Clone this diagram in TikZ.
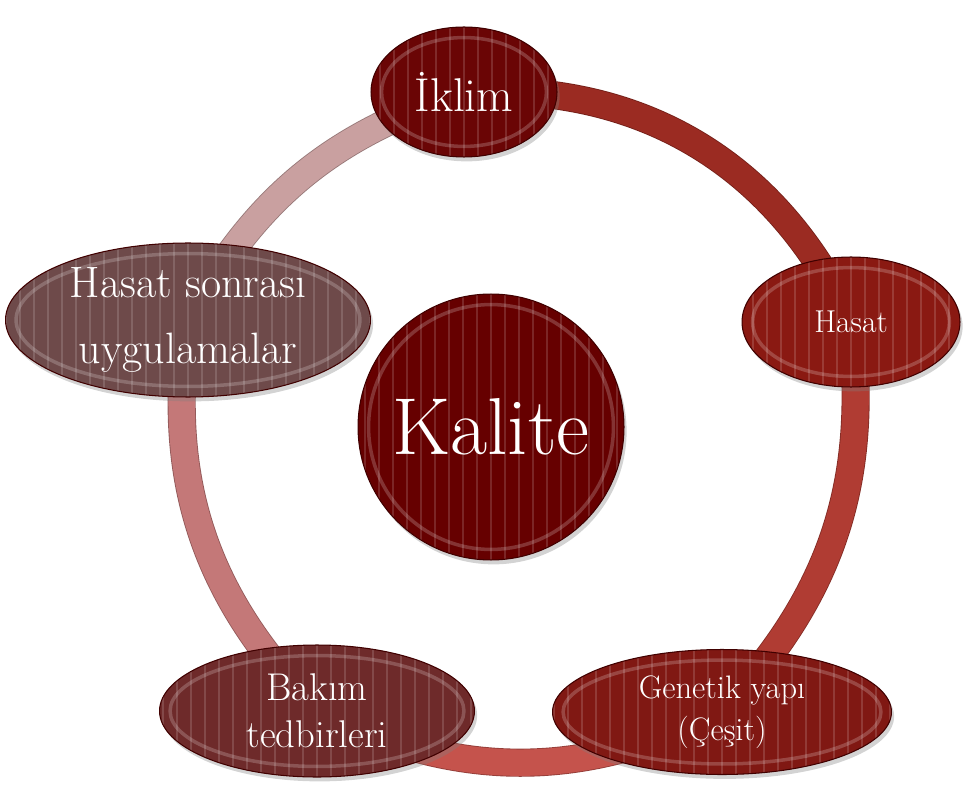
\documentclass[tikz,border=0pt]{standalone}
\usepackage{fontspec}
\usetikzlibrary{shapes.geometric,shadows,backgrounds,calc}
\definecolor{c0}{HTML}{660000}
\definecolor{c1}{HTML}{6A0505}
\definecolor{c2}{HTML}{8A1912}
\definecolor{c3}{HTML}{801813}
\definecolor{c4}{HTML}{6E2A2A}
\definecolor{c5}{HTML}{6E4A4A}
\definecolor{ringA}{HTML}{9B2B22}
\definecolor{ringB}{HTML}{B03C33}
\definecolor{ringC}{HTML}{C5534C}
\definecolor{ringD}{HTML}{C47878}
\definecolor{ringE}{HTML}{C9A0A0}
\begin{document}
\begin{tikzpicture}[x=0.02cm, y=0.02cm,
  main/.style = {draw=black!75!red, line width=0.6pt, ellipse, inner sep=-30pt, text=white, align=center,
    drop shadow={opacity=0.35, shadow xshift=1.5pt, shadow yshift=-2.5pt},
    path picture={
      \foreach \k in {-40,...,40}
        \draw[white, opacity=0.15, line width=1pt]
          ([xshift=\k*2.8mm]path picture bounding box.south) -- ([xshift=\k*2.8mm]path picture bounding box.north);
      \draw[white, opacity=0.2, line width=2pt]
        let \p1 = (path picture bounding box.north east), \p2 = (path picture bounding box.center)
        in (\p2) ellipse [x radius=\x1-\x2-6pt, y radius=\y1-\y2-6pt];
    }},
  ring/.style = {draw=#1!75!black, double=#1, double distance=15pt, line width=0.5pt}]
\useasboundingbox (0,0) rectangle (972,788);

\node[main, circle, fill=c0, minimum size=53.2mm, font=\fontsize{46}{50}\selectfont] (0) at (491,361) {Kalite};
\node[main, fill=c1, minimum width=37.2mm, minimum height=26mm, font=\fontsize{27}{32}\selectfont] (1) at (464,696) {İklim};
\node[main, fill=c2, minimum width=43.6mm, minimum height=26mm, font=\fontsize{18}{21}\selectfont] (2) at (851,466) {Hasat};
\node[main, fill=c3, minimum width=67.8mm, minimum height=25mm, font=\fontsize{18.5}{24}\selectfont] (3) at (722,76) {Genetik yapı\\(Çeşit)};
\node[main, fill=c4, minimum width=63mm, minimum height=26.4mm, font=\fontsize{22}{27}\selectfont] (4) at (317,77) {Bakım\\tedbirleri};
\node[main, fill=c5, minimum width=73mm, minimum height=30.8mm, font=\fontsize{25}{38}\selectfont] (5) at (188,468) {Hasat sonrası\\uygulamalar};

\begin{scope}[on background layer]
\draw[ring=ringA] (1.center) to[bend left=34] (2.center);
\draw[ring=ringB] (2.center) to[bend left=25] (3.center);
\draw[ring=ringC] (3.center) to[bend left=25.5] (4.center);
\draw[ring=ringD] (4.center) to[bend left=26.5] (5.center);
\draw[ring=ringE] (5.center) to[bend left=21.5] (1.center);
\end{scope}

\end{tikzpicture}
\end{document}
